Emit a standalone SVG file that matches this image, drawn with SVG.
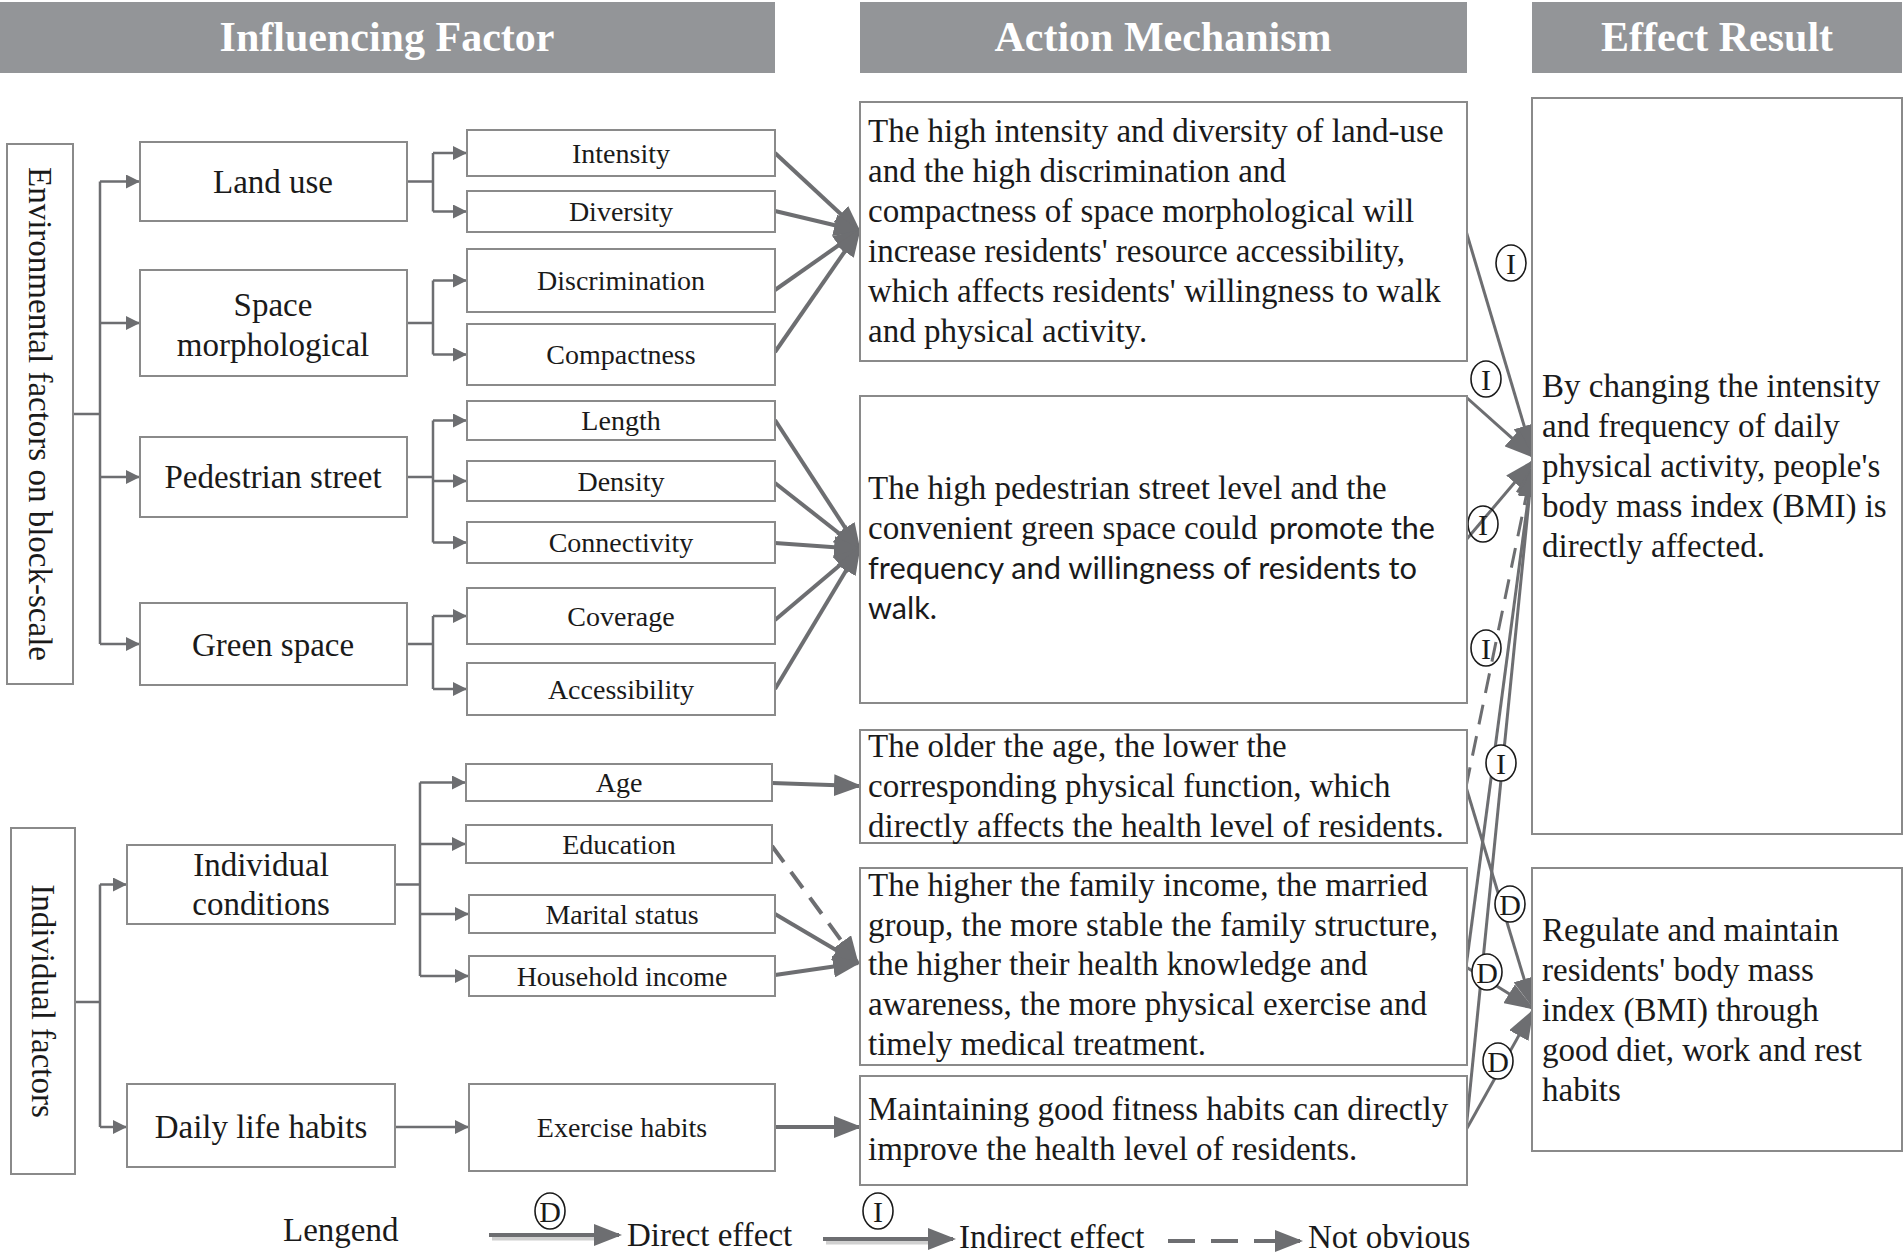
<svg xmlns="http://www.w3.org/2000/svg" width="1904" height="1254" viewBox="0 0 1904 1254">
<style>
.hdr{fill:#939598}
.ht{font-family:"Liberation Serif",serif;font-weight:bold;font-size:42px;fill:#fff;text-anchor:middle}
.box{fill:#fff;stroke:#8a8a8a;stroke-width:2}
.t{font-family:"Liberation Serif",serif;fill:#1a1a1a;font-size:33px}
.s28{font-size:28px}
.c{text-anchor:middle}
.sans{font-family:Lato,"Liberation Sans",sans-serif;fill:#1a1a1a;font-size:31px}
.ln{stroke:#6d6e71;stroke-width:2.5;fill:none}
.th{stroke:#6d6e71;stroke-width:4;fill:none}
.rc{stroke:#6d6e71;stroke-width:3;fill:none}
.dash{stroke-dasharray:20 12}
.ldash{stroke-dasharray:27 16}
.lw{fill:#fff;stroke:#1a1a1a;stroke-width:1.6}
.ln0{fill:none;stroke:#1a1a1a;stroke-width:1.6}
.lt{font-family:"Liberation Serif",serif;font-size:30px;fill:#1a1a1a;text-anchor:middle}
</style>
<defs>
<marker id="a" markerUnits="userSpaceOnUse" markerWidth="14" markerHeight="14" refX="13" refY="7" orient="auto"><path d="M0,0 L14,7 L0,14 z" fill="#6d6e71"/></marker>
<marker id="b" markerUnits="userSpaceOnUse" markerWidth="28" markerHeight="22" refX="25" refY="11" orient="auto"><path d="M0,0 L28,11 L0,22 z" fill="#6d6e71"/></marker>
<marker id="r" markerUnits="userSpaceOnUse" markerWidth="30" markerHeight="22" refX="27" refY="11" orient="auto"><path d="M0,0 L30,11 L0,22 z" fill="#6d6e71"/></marker>
</defs>
<rect width="1904" height="1254" fill="#fff"/>

<g id="headers">
<rect class="hdr" x="0" y="2" width="775" height="71"/>
<text class="ht" x="387" y="51">Influencing Factor</text>
<rect class="hdr" x="860" y="2" width="607" height="71"/>
<text class="ht" x="1163" y="51">Action Mechanism</text>
<rect class="hdr" x="1532" y="2" width="370" height="71"/>
<text class="ht" x="1717" y="51">Effect Result</text>
</g>

<g id="connectors">
<path class="ln" d="M73,414 H100 M100,181.5 V644"/>
<path class="ln" d="M100,181.5 H139" marker-end="url(#a)"/>
<path class="ln" d="M100,323 H139" marker-end="url(#a)"/>
<path class="ln" d="M100,477 H139" marker-end="url(#a)"/>
<path class="ln" d="M100,644 H139" marker-end="url(#a)"/>
<path class="ln" d="M407,181.5 H433 M433,153 V211.5"/>
<path class="ln" d="M433,153 H466" marker-end="url(#a)"/>
<path class="ln" d="M433,211.5 H466" marker-end="url(#a)"/>
<path class="ln" d="M407,323 H433 M433,280.5 V354.5"/>
<path class="ln" d="M433,280.5 H466" marker-end="url(#a)"/>
<path class="ln" d="M433,354.5 H466" marker-end="url(#a)"/>
<path class="ln" d="M407,477 H433 M433,420.5 V542.5"/>
<path class="ln" d="M433,420.5 H466" marker-end="url(#a)"/>
<path class="ln" d="M433,481 H466" marker-end="url(#a)"/>
<path class="ln" d="M433,542.5 H466" marker-end="url(#a)"/>
<path class="ln" d="M407,644 H433 M433,616 V689"/>
<path class="ln" d="M433,616 H466" marker-end="url(#a)"/>
<path class="ln" d="M433,689 H466" marker-end="url(#a)"/>
<path class="ln" d="M75,1002 H100 M100,884.5 V1127"/>
<path class="ln" d="M100,884.5 H126" marker-end="url(#a)"/>
<path class="ln" d="M100,1127 H126" marker-end="url(#a)"/>
<path class="ln" d="M395,884.5 H420 M420,782.5 V976"/>
<path class="ln" d="M420,782.5 H465" marker-end="url(#a)"/>
<path class="ln" d="M420,844 H465" marker-end="url(#a)"/>
<path class="ln" d="M420,914 H468" marker-end="url(#a)"/>
<path class="ln" d="M420,976 H468" marker-end="url(#a)"/>
<path class="ln" d="M395,1127 H468" marker-end="url(#a)"/>

<path class="th" d="M775,153 L859,231" marker-end="url(#b)"/>
<path class="th" d="M775,211 L859,231" marker-end="url(#b)"/>
<path class="th" d="M775,290 L859,231" marker-end="url(#b)"/>
<path class="th" d="M775,352 L859,231" marker-end="url(#b)"/>
<path class="th" d="M775,420 L859,549" marker-end="url(#b)"/>
<path class="th" d="M775,483 L859,549" marker-end="url(#b)"/>
<path class="th" d="M775,543 L859,549" marker-end="url(#b)"/>
<path class="th" d="M775,620 L859,549" marker-end="url(#b)"/>
<path class="th" d="M775,689 L859,549" marker-end="url(#b)"/>
<path class="th" d="M772,783 L859,786" marker-end="url(#b)"/>
<path class="th dash" d="M772,846 L857,962" marker-end="url(#b)"/>
<path class="th" d="M775,914 L858,963" marker-end="url(#b)"/>
<path class="th" d="M775,975 L858,963" marker-end="url(#b)"/>
<path class="th" d="M775,1127 L859,1127" marker-end="url(#b)"/>

<path class="rc" d="M1466,231 L1532,452" marker-end="url(#r)"/>
<path class="rc" d="M1466,397 L1532,456" marker-end="url(#r)"/>
<path class="rc" d="M1466,540 L1532,462" marker-end="url(#r)"/>
<path class="rc dash" d="M1466,787 L1532,468" marker-end="url(#r)"/>
<path class="rc" d="M1466,967 L1532,470" marker-end="url(#r)"/>
<path class="rc" d="M1466,1130 L1532,470" marker-end="url(#r)"/>
<path class="rc" d="M1466,787 L1532,1005" marker-end="url(#r)"/>
<path class="rc" d="M1466,967 L1532,1008" marker-end="url(#r)"/>
<path class="rc" d="M1466,1130 L1532,1012" marker-end="url(#r)"/>

<g id="lbl-i1"><ellipse class="lw" cx="1511" cy="263" rx="15" ry="18"/><text class="lt" x="1511" y="274">I</text></g>
<g id="lbl-i2"><ellipse class="lw" cx="1486" cy="379" rx="15" ry="18"/><text class="lt" x="1486" y="390">I</text></g>
<g id="lbl-i3"><ellipse class="ln0" cx="1483" cy="524" rx="15" ry="18"/><text class="lt" x="1483" y="535">I</text></g>
<g id="lbl-i4"><ellipse class="ln0" cx="1486" cy="648" rx="15" ry="18"/><text class="lt" x="1486" y="659">I</text></g>
<g id="lbl-i5"><ellipse class="lw" cx="1501" cy="763" rx="15" ry="18"/><text class="lt" x="1501" y="774">I</text></g>
<g id="lbl-d1"><ellipse class="lw" cx="1510" cy="904" rx="15" ry="18"/><text class="lt" x="1510" y="915">D</text></g>
<g id="lbl-d2"><ellipse class="lw" cx="1487" cy="972" rx="15" ry="18"/><text class="lt" x="1487" y="983">D</text></g>
<g id="lbl-d3"><ellipse class="lw" cx="1498" cy="1061" rx="15" ry="18"/><text class="lt" x="1498" y="1072">D</text></g>
</g>

<g id="env-factors">
<rect class="box" x="7" y="144" width="66" height="540"/>
<text class="t c" transform="translate(40,414) rotate(90)" x="0" y="11">Environmental factors on block-scale</text>
</g>
<g id="ind-factors">
<rect class="box" x="11" y="828" width="64" height="346"/>
<text class="t c" transform="translate(43,1001) rotate(90)" x="0" y="11">Individual factors</text>
</g>

<g id="land-use"><rect class="box" x="140" y="142" width="267" height="79"/><text class="t c" x="273" y="193">Land use</text></g>
<g id="space-morph"><rect class="box" x="140" y="270" width="267" height="106"/><text class="t c" x="273" y="316">Space</text><text class="t c" x="273" y="356">morphological</text></g>
<g id="ped-street"><rect class="box" x="140" y="437" width="267" height="80"/><text class="t c" x="273" y="488">Pedestrian street</text></g>
<g id="green-space"><rect class="box" x="140" y="603" width="267" height="82"/><text class="t c" x="273" y="656">Green space</text></g>

<g id="intensity"><rect class="box" x="467" y="130" width="308" height="46"/><text class="t s28 c" x="621" y="163">Intensity</text></g>
<g id="diversity"><rect class="box" x="467" y="191" width="308" height="41"/><text class="t s28 c" x="621" y="221">Diversity</text></g>
<g id="discrimination"><rect class="box" x="467" y="249" width="308" height="63"/><text class="t s28 c" x="621" y="290">Discrimination</text></g>
<g id="compactness"><rect class="box" x="467" y="324" width="308" height="61"/><text class="t s28 c" x="621" y="364">Compactness</text></g>
<g id="length"><rect class="box" x="467" y="401" width="308" height="39"/><text class="t s28 c" x="621" y="430">Length</text></g>
<g id="density"><rect class="box" x="467" y="461" width="308" height="40"/><text class="t s28 c" x="621" y="491">Density</text></g>
<g id="connectivity"><rect class="box" x="467" y="522" width="308" height="41"/><text class="t s28 c" x="621" y="552">Connectivity</text></g>
<g id="coverage"><rect class="box" x="467" y="588" width="308" height="56"/><text class="t s28 c" x="621" y="626">Coverage</text></g>
<g id="accessibility"><rect class="box" x="467" y="663" width="308" height="52"/><text class="t s28 c" x="621" y="699">Accessibility</text></g>

<g id="ind-cond"><rect class="box" x="127" y="845" width="268" height="79"/><text class="t c" x="261" y="876">Individual</text><text class="t c" x="261" y="915">conditions</text></g>
<g id="daily-habits"><rect class="box" x="127" y="1084" width="268" height="83"/><text class="t c" x="261" y="1138">Daily life habits</text></g>

<g id="age"><rect class="box" x="466" y="764" width="306" height="37"/><text class="t s28 c" x="619" y="792">Age</text></g>
<g id="education"><rect class="box" x="466" y="825" width="306" height="38"/><text class="t s28 c" x="619" y="854">Education</text></g>
<g id="marital"><rect class="box" x="469" y="895" width="306" height="38"/><text class="t s28 c" x="622" y="924">Marital status</text></g>
<g id="household"><rect class="box" x="469" y="956" width="306" height="40"/><text class="t s28 c" x="622" y="986">Household income</text></g>
<g id="exercise"><rect class="box" x="469" y="1084" width="306" height="87"/><text class="t s28 c" x="622" y="1137">Exercise habits</text></g>

<g id="mech1"><rect class="box" x="860" y="102" width="607" height="259"/>
<text class="t" x="868" y="142">The high intensity and diversity of land-use</text>
<text class="t" x="868" y="182">and the high discrimination and</text>
<text class="t" x="868" y="222">compactness of space morphological will</text>
<text class="t" x="868" y="262">increase residents' resource accessibility,</text>
<text class="t" x="868" y="302">which affects residents' willingness to walk</text>
<text class="t" x="868" y="342">and physical activity.</text>
</g>
<g id="mech2"><rect class="box" x="860" y="396" width="607" height="307"/>
<text class="t" x="868" y="499">The high pedestrian street level and the</text>
<text class="t" x="868" y="539">convenient green space could</text>
<text class="sans" x="1269" y="539" textLength="166" lengthAdjust="spacingAndGlyphs">promote the</text>
<text class="sans" x="868" y="579" textLength="549" lengthAdjust="spacingAndGlyphs">frequency and willingness of residents to</text>
<text class="sans" x="868" y="619" textLength="69" lengthAdjust="spacingAndGlyphs">walk.</text>
</g>
<g id="mech3"><rect class="box" x="860" y="730" width="607" height="113"/>
<text class="t" x="868" y="757">The older the age, the lower the</text>
<text class="t" x="868" y="797">corresponding physical function, which</text>
<text class="t" x="868" y="837">directly affects the health level of residents.</text>
</g>
<g id="mech4"><rect class="box" x="860" y="868" width="607" height="197"/>
<text class="t" x="868" y="896">The higher the family income, the married</text>
<text class="t" x="868" y="936">group, the more stable the family structure,</text>
<text class="t" x="868" y="975">the higher their health knowledge and</text>
<text class="t" x="868" y="1015">awareness, the more physical exercise and</text>
<text class="t" x="868" y="1055">timely medical treatment.</text>
</g>
<g id="mech5"><rect class="box" x="860" y="1076" width="607" height="109"/>
<text class="t" x="868" y="1120">Maintaining good fitness habits can directly</text>
<text class="t" x="868" y="1160">improve the health level of residents.</text>
</g>

<g id="result1"><rect class="box" x="1532" y="98" width="370" height="736"/>
<text class="t" x="1542" y="397">By changing the intensity</text>
<text class="t" x="1542" y="437">and frequency of daily</text>
<text class="t" x="1542" y="477">physical activity, people's</text>
<text class="t" x="1542" y="517">body mass index (BMI) is</text>
<text class="t" x="1542" y="557">directly affected.</text>
</g>
<g id="result2"><rect class="box" x="1532" y="868" width="370" height="283"/>
<text class="t" x="1542" y="941">Regulate and maintain</text>
<text class="t" x="1542" y="981">residents' body mass</text>
<text class="t" x="1542" y="1021">index (BMI) through</text>
<text class="t" x="1542" y="1061">good diet, work and rest</text>
<text class="t" x="1542" y="1101">habits</text>
</g>

<g id="legend">
<text class="t" x="283" y="1241">Lengend</text>
<path d="M492,1238 H598" stroke="#d0d0d0" stroke-width="5"/>
<path class="th" d="M489,1235 H619" stroke-width="5" marker-end="url(#b)"/>
<ellipse class="lw" cx="550" cy="1211" rx="15" ry="18"/><text class="lt" x="550" y="1222">D</text>
<text class="t" x="627" y="1246">Direct effect</text>
<path d="M826,1242 H932" stroke="#d0d0d0" stroke-width="5"/>
<path class="th" d="M823,1239 H953" stroke-width="5" marker-end="url(#b)"/>
<ellipse class="lw" cx="878" cy="1211" rx="15" ry="18"/><text class="lt" x="878" y="1222">I</text>
<text class="t" x="959" y="1248">Indirect effect</text>
<path class="th ldash" d="M1168,1241 H1300" stroke-width="5" marker-end="url(#b)"/>
<text class="t" x="1308" y="1248">Not obvious</text>
</g>
</svg>
